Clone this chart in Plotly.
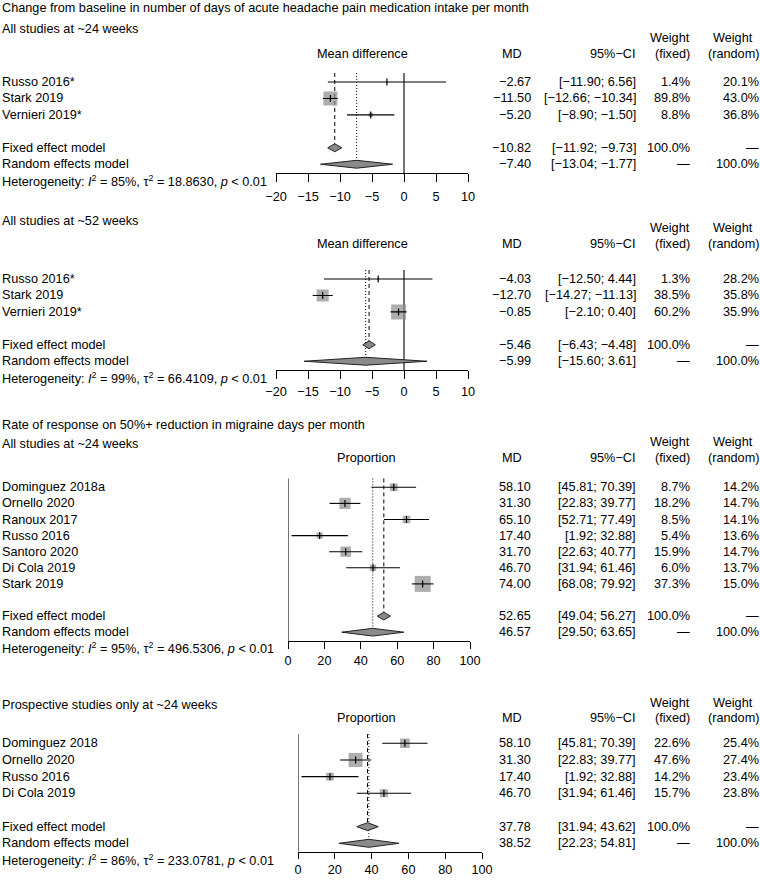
import plotly.graph_objects as go

W, H = 760, 880
FONT = "Liberation Sans, Arial, Helvetica, sans-serif"
FS = 12.7
SQ_COL = "#8c8c8c"

# ---------------- data ----------------
title_1 = "Change from baseline in number of days of acute headache pain medication intake per month"
title_3 = "Rate of response on 50%+ reduction in migraine days per month"

sub_1 = "All studies at ~24 weeks"
studies_1 = ["Russo 2016*", "Stark 2019", "Vernieri 2019*"]
md_1 = [-2.67, -11.50, -5.20]
lo_1 = [-11.90, -12.66, -8.90]
hi_1 = [6.56, -10.34, -1.50]
wfix_1 = [1.4, 89.8, 8.8]
wran_1 = [20.1, 43.0, 36.8]
fixed_1 = [-10.82, -11.92, -9.73]
random_1 = [-7.40, -13.04, -1.77]
het_1 = ["85%", "18.8630", "0.01"]

sub_2 = "All studies at ~52 weeks"
studies_2 = ["Russo 2016*", "Stark 2019", "Vernieri 2019*"]
md_2 = [-4.03, -12.70, -0.85]
lo_2 = [-12.50, -14.27, -2.10]
hi_2 = [4.44, -11.13, 0.40]
wfix_2 = [1.3, 38.5, 60.2]
wran_2 = [28.2, 35.8, 35.9]
fixed_2 = [-5.46, -6.43, -4.48]
random_2 = [-5.99, -15.60, 3.61]
het_2 = ["99%", "66.4109", "0.01"]

sub_3 = "All studies at ~24 weeks"
studies_3 = ["Dominguez 2018a", "Ornello 2020", "Ranoux 2017", "Russo 2016",
             "Santoro 2020", "Di Cola 2019", "Stark 2019"]
md_3 = [58.10, 31.30, 65.10, 17.40, 31.70, 46.70, 74.00]
lo_3 = [45.81, 22.83, 52.71, 1.92, 22.63, 31.94, 68.08]
hi_3 = [70.39, 39.77, 77.49, 32.88, 40.77, 61.46, 79.92]
wfix_3 = [8.7, 18.2, 8.5, 5.4, 15.9, 6.0, 37.3]
wran_3 = [14.2, 14.7, 14.1, 13.6, 14.7, 13.7, 15.0]
fixed_3 = [52.65, 49.04, 56.27]
random_3 = [46.57, 29.50, 63.65]
het_3 = ["95%", "496.5306", "0.01"]

sub_4 = "Prospective studies only at ~24 weeks"
studies_4 = ["Dominguez 2018", "Ornello 2020", "Russo 2016", "Di Cola 2019"]
md_4 = [58.10, 31.30, 17.40, 46.70]
lo_4 = [45.81, 22.83, 1.92, 31.94]
hi_4 = [70.39, 39.77, 32.88, 61.46]
wfix_4 = [22.6, 47.6, 14.2, 15.7]
wran_4 = [25.4, 27.4, 23.4, 23.8]
fixed_4 = [37.78, 31.94, 43.62]
random_4 = [38.52, 22.23, 54.81]
het_4 = ["86%", "233.0781", "0.01"]

ticks_md = [-20, -15, -10, -5, 0, 5, 10]
ticks_prop = [0, 20, 40, 60, 80, 100]

# ---------------- layout (pixel geometry) ----------------
panels = [
    dict(studies=studies_1, md=md_1, lo=lo_1, hi=hi_1, wf=wfix_1, wr=wran_1,
         fixed=fixed_1, random=random_1, het=het_1, sub=sub_1, title=title_1,
         effect="Mean difference", ticks=ticks_md, xr=(-20, 10), ref=0,
         y0=82.0, s=16.45, axis=173.0, xpx=(276, 468), eff_cx=362,
         h1=38.0, h2=53.5, sub_y=29.0, title_y=7.5, maxsq=14,
         ticklen=8, standoff=4),
    dict(studies=studies_2, md=md_2, lo=lo_2, hi=hi_2, wf=wfix_2, wr=wran_2,
         fixed=fixed_2, random=random_2, het=het_2, sub=sub_2, title=None,
         effect="Mean difference", ticks=ticks_md, xr=(-20, 10), ref=0,
         y0=279.0, s=16.45, axis=370.0, xpx=(276, 468), eff_cx=362,
         h1=228.0, h2=244.0, sub_y=221.0, title_y=None, maxsq=15,
         ticklen=8, standoff=2),
    dict(studies=studies_3, md=md_3, lo=lo_3, hi=hi_3, wf=wfix_3, wr=wran_3,
         fixed=fixed_3, random=random_3, het=het_3, sub=sub_3, title=title_3,
         effect="Proportion", ticks=ticks_prop, xr=(0, 100), ref=0,
         y0=487.3, s=16.1, axis=641.0, xpx=(288, 470), eff_cx=366,
         h1=442.0, h2=457.5, sub_y=444.0, title_y=425.0, maxsq=16,
         ticklen=7, standoff=1),
    dict(studies=studies_4, md=md_4, lo=lo_4, hi=hi_4, wf=wfix_4, wr=wran_4,
         fixed=fixed_4, random=random_4, het=het_4, sub=sub_4, title=None,
         effect="Proportion", ticks=ticks_prop, xr=(0, 100), ref=0,
         y0=743.3, s=16.67, axis=851.7, xpx=(298, 482), eff_cx=366,
         h1=703.3, h2=718.3, sub_y=705.0, title_y=None, maxsq=14,
         ticklen=6, standoff=0),
]

X_LEFT = 0
COL_MD = 533
COL_CI = 638
COL_WF = 692
COL_WR = 761
COL_MD_HDR = 512
COL_WR_HDR1 = 755


def fmt(v):
    return f"{v:.2f}".replace("-", "\u2212")


def ann(text, xpx, ypx, anchor="left"):
    return dict(text=text, x=xpx / W, y=1 - ypx / H, xref="paper", yref="paper",
                xanchor=anchor, yanchor="middle", showarrow=False,
                font=dict(family=FONT, size=FS, color="black"))


fig = go.Figure()
annotations = []
TOP = -0.55
DH = 0.24

for k, p in enumerate(panels, start=1):
    sfx = "" if k == 1 else str(k)
    xa, ya = "x" + sfx, "y" + sfx
    n = len(p["studies"])
    axis_row = (p["axis"] - p["y0"]) / p["s"]
    top_row = TOP - 0.15
    top_px = p["y0"] + top_row * p["s"]
    rows = list(range(n))
    r_fix, r_ran, r_het = n + 1, n + 2, n + 3

    def ypx(r, p=p):
        return p["y0"] + r * p["s"]

    # reference line
    fig.add_trace(go.Scatter(x=[p["ref"], p["ref"]], y=[TOP, axis_row], mode="lines",
                             line=dict(color="black", width=1.1), xaxis=xa, yaxis=ya,
                             hoverinfo="skip"))
    # fixed (dashed) and random (dotted) lines
    fig.add_trace(go.Scatter(x=[p["fixed"][0]] * 2, y=[TOP, r_fix], mode="lines",
                             line=dict(color="black", width=1, dash="4px,3px"),
                             xaxis=xa, yaxis=ya, hoverinfo="skip"))
    fig.add_trace(go.Scatter(x=[p["random"][0]] * 2, y=[TOP, r_ran], mode="lines",
                             line=dict(color="black", width=1, dash="1px,2px"),
                             xaxis=xa, yaxis=ya, hoverinfo="skip"))
    # squares sized by fixed weight
    wmax = max(p["wf"])
    sizes = [p["maxsq"] * (w / wmax) ** 0.5 for w in p["wf"]]
    fig.add_trace(go.Scatter(x=p["md"], y=rows, mode="markers",
                             marker=dict(symbol="square", size=sizes, color=SQ_COL,
                                         line=dict(width=0)),
                             xaxis=xa, yaxis=ya, hoverinfo="skip"))
    # CI lines
    cx, cy = [], []
    for i in range(n):
        cx += [p["lo"][i], p["hi"][i], None]
        cy += [i, i, None]
    fig.add_trace(go.Scatter(x=cx, y=cy, mode="lines", line=dict(color="black", width=1.1),
                             xaxis=xa, yaxis=ya, hoverinfo="skip"))
    fig.add_trace(go.Scatter(x=p["md"], y=rows, mode="markers",
                             marker=dict(symbol="line-ns-open", size=5, color="black",
                                         line=dict(color="black", width=1.2)),
                             xaxis=xa, yaxis=ya, hoverinfo="skip"))
    # diamonds
    for est, r in ((p["fixed"], r_fix), (p["random"], r_ran)):
        e, l, u = est
        fig.add_trace(go.Scatter(x=[l, e, u, e, l], y=[r, r - DH, r, r + DH, r],
                                 mode="lines", fill="toself", fillcolor="#8a8a8a",
                                 line=dict(color="#222222", width=1),
                                 xaxis=xa, yaxis=ya, hoverinfo="skip"))

    fig.update_layout(**{
        ("xaxis" + sfx): dict(domain=[p["xpx"][0] / W, p["xpx"][1] / W], range=list(p["xr"]),
                              anchor=ya, showline=True, linecolor="black", linewidth=1.1,
                              ticks="outside", ticklen=p["ticklen"], tickwidth=1.1,
                              tickcolor="black", tickvals=p["ticks"], showgrid=False,
                              zeroline=False, ticklabelstandoff=p["standoff"],
                              automargin=False,
                              tickfont=dict(family=FONT, size=FS, color="black"),
                              fixedrange=True),
        ("yaxis" + sfx): dict(domain=[1 - p["axis"] / H, 1 - top_px / H],
                              range=[axis_row, top_row], visible=False, automargin=False,
                              showgrid=False, zeroline=False, fixedrange=True,
                              anchor=xa),
    })

    # texts
    if p["title"]:
        annotations.append(ann(p["title"], X_LEFT, p["title_y"]))
    annotations.append(ann(p["sub"], X_LEFT, p["sub_y"]))
    annotations.append(ann(p["effect"], p["eff_cx"], p["h2"], "center"))
    annotations.append(ann("MD", COL_MD_HDR, p["h2"], "center"))
    annotations.append(ann("95%\u2212CI", COL_CI, p["h2"], "right"))
    annotations.append(ann("Weight", COL_WF, p["h1"], "right"))
    annotations.append(ann("(fixed)", COL_WF, p["h2"], "right"))
    annotations.append(ann("Weight", COL_WR_HDR1, p["h1"], "right"))
    annotations.append(ann("(random)", COL_WR, p["h2"], "right"))
    for i, name in enumerate(p["studies"]):
        y = ypx(i)
        annotations.append(ann(name, X_LEFT, y))
        annotations.append(ann(fmt(p["md"][i]), COL_MD, y, "right"))
        annotations.append(ann(f"[{fmt(p['lo'][i])}; {fmt(p['hi'][i])}]", COL_CI, y, "right"))
        annotations.append(ann(f"{p['wf'][i]:.1f}%", COL_WF, y, "right"))
        annotations.append(ann(f"{p['wr'][i]:.1f}%", COL_WR, y, "right"))
    yf, yr, yh = ypx(r_fix), ypx(r_ran), ypx(r_het)
    annotations.append(ann("Fixed effect model", X_LEFT, yf))
    annotations.append(ann(fmt(p["fixed"][0]), COL_MD, yf, "right"))
    annotations.append(ann(f"[{fmt(p['fixed'][1])}; {fmt(p['fixed'][2])}]", COL_CI, yf, "right"))
    annotations.append(ann("100.0%", COL_WF, yf, "right"))
    annotations.append(ann("\u2014", COL_WR, yf, "right"))
    annotations.append(ann("Random effects model", X_LEFT, yr))
    annotations.append(ann(fmt(p["random"][0]), COL_MD, yr, "right"))
    annotations.append(ann(f"[{fmt(p['random'][1])}; {fmt(p['random'][2])}]", COL_CI, yr, "right"))
    annotations.append(ann("\u2014", COL_WF, yr, "right"))
    annotations.append(ann("100.0%", COL_WR, yr, "right"))
    i2, tau2, pv = p["het"]
    annotations.append(ann(
        f"Heterogeneity: <i>I</i><sup>2</sup> = {i2}, \u03c4<sup>2</sup> = {tau2}, <i>p</i> &lt; {pv}",
        X_LEFT, yh))

fig.update_layout(width=W, height=H, margin=dict(l=0, r=0, t=0, b=0),
                  paper_bgcolor="white", plot_bgcolor="rgba(0,0,0,0)",
                  showlegend=False, annotations=annotations,
                  font=dict(family=FONT, size=FS, color="black"))

fig.write_html("out.html",
               config={"displayModeBar": False},
               post_script="document.body.style.margin='0px';"
                           "document.body.style.overflow='hidden';")
